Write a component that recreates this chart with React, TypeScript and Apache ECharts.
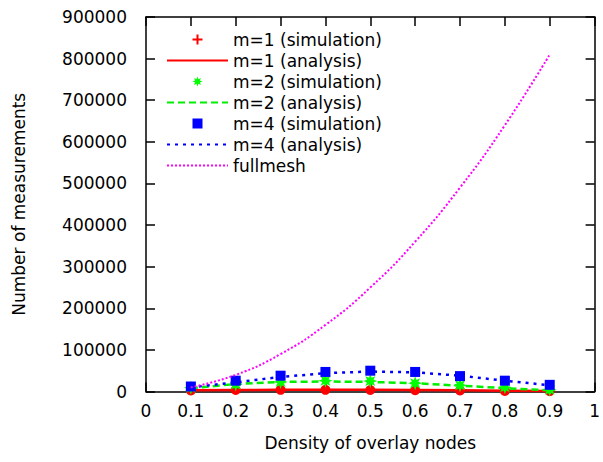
import React, { useEffect, useRef } from "react";
import * as echarts from "echarts";

const density = [0.1, 0.2, 0.3, 0.4, 0.5, 0.6, 0.7, 0.8, 0.9];
const m1Sim = [2500, 3500, 4000, 4000, 3500, 3000, 2500, 1500, 1000];
const m1Ana = [3000, 3500, 4000, 4000, 4000, 3500, 3000, 2000, 1000];
const m2Sim = [9000, 17000, 23000, 26000, 25000, 20000, 15000, 10000, 4000];
const m2Ana = [8000, 18000, 23000, 24000, 23000, 20000, 14000, 8000, 3000];
const m4Sim = [12000, 26000, 38000, 47000, 50000, 47000, 37000, 26000, 16000];
const m4Ana = [10000, 22000, 35000, 44000, 48000, 46000, 38000, 26000, 15000];
const fullmesh = [10000, 40000, 90000, 160000, 250000, 360000, 490000, 640000, 810000];

const seriesNames = [
  "m=1 (simulation)",
  "m=1 (analysis)",
  "m=2 (simulation)",
  "m=2 (analysis)",
  "m=4 (simulation)",
  "m=4 (analysis)",
  "fullmesh",
];

const FONT = "DejaVu Sans";
const PLUS = "path://M4 0 H6 V4 H10 V6 H6 V10 H4 V6 H0 V4 H4 Z";
const SQUARE = "path://M0 0 H10 V10 H0 Z";
const STAR =
  "path://M20 10 L14.62 11.91 L17.07 17.07 L11.91 14.62 L10 20 L8.09 14.62 L2.93 17.07 L5.38 11.91 L0 10 L5.38 8.09 L2.93 2.93 L8.09 5.38 L10 0 L11.91 5.38 L17.07 2.93 L14.62 8.09 Z";

const pts = (ys: number[]) => density.map((x, i) => [x, ys[i]]);

export default function App() {
  const ref = useRef<HTMLDivElement>(null);
  useEffect(() => {
    if (!ref.current) return;
    const chart = echarts.init(ref.current, null, { renderer: "svg" });
    const axisLine = { show: true, onZero: false, lineStyle: { color: "#000", width: 1.5 } };
    const tick = { show: true, inside: true, length: 9, lineStyle: { color: "#000", width: 1.5 } };
    const hideSym = { itemStyle: { opacity: 0 } };
    chart.setOption({
      animation: false,
      backgroundColor: "#fff",
      grid: { left: 146, right: 5, top: 17, bottom: 70.5, containLabel: false },
      legend: {
        orient: "vertical",
        left: 161,
        top: 24,
        itemWidth: 61,
        itemHeight: 10,
        itemGap: 0,
        symbolKeepAspect: true,
        textStyle: { fontFamily: FONT, fontSize: 17, color: "#000", lineHeight: 21 },
        data: [
          { name: seriesNames[0], icon: PLUS, itemStyle: { opacity: 1 } },
          { name: seriesNames[1], ...hideSym },
          { name: seriesNames[2], icon: STAR, itemStyle: { opacity: 1 } },
          { name: seriesNames[3], ...hideSym },
          { name: seriesNames[4], icon: SQUARE, itemStyle: { opacity: 1 } },
          { name: seriesNames[5], ...hideSym },
          { name: seriesNames[6], ...hideSym },
        ],
      },
      xAxis: [
        {
          type: "value",
          min: 0,
          max: 1,
          interval: 0.1,
          position: "bottom",
          axisLine,
          axisTick: tick,
          splitLine: { show: false },
          axisLabel: {
            margin: 11,
            fontFamily: FONT,
            fontSize: 17,
            color: "#000",
            formatter: (v: number) => String(+v.toFixed(1)),
          },
          name: "Density of overlay nodes",
          nameLocation: "middle",
          nameGap: 43,
          nameTextStyle: { fontFamily: FONT, fontSize: 17, color: "#000" },
        },
        {
          type: "value",
          min: 0,
          max: 1,
          interval: 0.1,
          position: "top",
          axisLine,
          axisTick: tick,
          splitLine: { show: false },
          axisLabel: { show: false },
        },
      ],
      yAxis: [
        {
          type: "value",
          min: 0,
          max: 900000,
          interval: 100000,
          position: "left",
          axisLine,
          axisTick: tick,
          splitLine: { show: false },
          axisLabel: {
            margin: 19,
            fontFamily: FONT,
            fontSize: 17,
            color: "#000",
            formatter: (v: number) => String(v),
          },
          name: "Number of measurements",
          nameLocation: "middle",
          nameGap: 119,
          nameTextStyle: { fontFamily: FONT, fontSize: 17, color: "#000" },
        },
        {
          type: "value",
          min: 0,
          max: 900000,
          interval: 100000,
          position: "right",
          axisLine,
          axisTick: tick,
          splitLine: { show: false },
          axisLabel: { show: false },
        },
      ],
      series: [
        {
          name: seriesNames[0],
          type: "scatter",
          data: pts(m1Sim),
          symbol: "circle",
          symbolSize: 10,
          itemStyle: { color: "#ff0000", opacity: 1 },
          clip: false,
          z: 2,
        },
        {
          name: seriesNames[1],
          type: "line",
          data: pts(m1Ana),
          symbol: "none",
          lineStyle: { color: "#ff0000", width: 2.5, type: "solid" },
          itemStyle: { color: "#ff0000" },
          clip: false,
          z: 2,
        },
        {
          name: seriesNames[2],
          type: "scatter",
          data: pts(m2Sim),
          symbol: STAR,
          symbolSize: 14,
          itemStyle: { color: "#00ff00", opacity: 1 },
          clip: false,
          z: 3,
        },
        {
          name: seriesNames[3],
          type: "line",
          data: pts(m2Ana),
          symbol: "none",
          lineStyle: { color: "#00ee00", width: 2.5, type: [7, 4] },
          itemStyle: { color: "#00ee00" },
          clip: false,
          z: 3,
        },
        {
          name: seriesNames[4],
          type: "scatter",
          data: pts(m4Sim),
          symbol: "rect",
          symbolSize: 10,
          itemStyle: { color: "#0000ff", opacity: 1 },
          clip: false,
          z: 4,
        },
        {
          name: seriesNames[5],
          type: "line",
          data: pts(m4Ana),
          symbol: "none",
          lineStyle: { color: "#0000ff", width: 2.5, type: [3, 5] },
          itemStyle: { color: "#0000ff" },
          clip: false,
          z: 4,
        },
        {
          name: seriesNames[6],
          type: "line",
          data: pts(fullmesh),
          symbol: "none",
          smooth: true,
          lineStyle: { color: "#ff00ff", width: 2, type: [2, 2] },
          itemStyle: { color: "#ff00ff" },
          clip: false,
          z: 5,
        },
      ],
    });
    return () => chart.dispose();
  }, []);
  return (
    <div
      ref={ref}
      style={{ position: "fixed", left: 0, top: 0, width: 603, height: 462, background: "#fff" }}
    />
  );
}
